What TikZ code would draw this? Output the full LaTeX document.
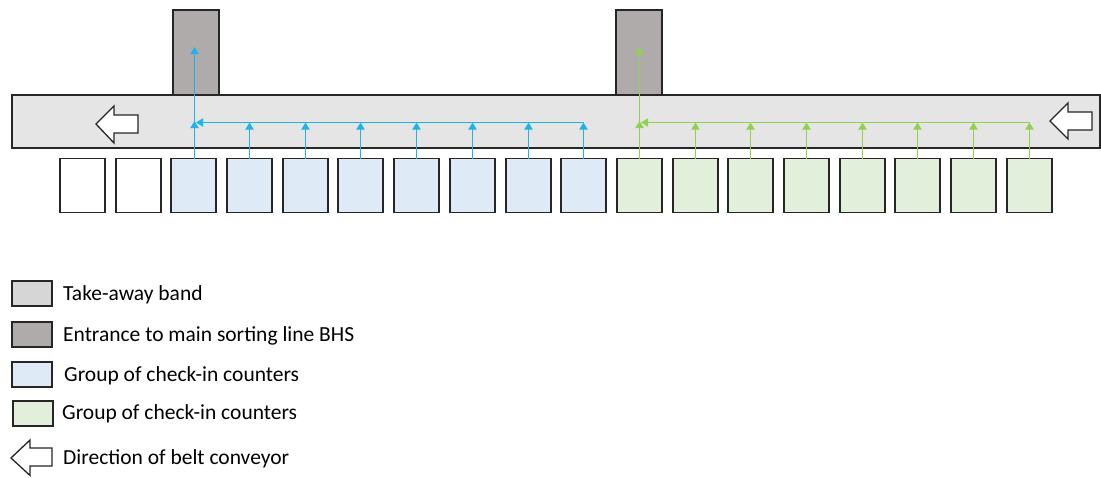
\documentclass[tikz,border=0pt]{standalone}
\usepackage{fontspec}
\setmainfont{Carlito}
\usetikzlibrary{arrows.meta}
\definecolor{bandfill}{RGB}{229,229,229}
\definecolor{legendband}{RGB}{214,214,214}
\definecolor{entfill}{RGB}{175,171,171}
\definecolor{bluefill}{RGB}{222,234,246}
\definecolor{greenfill}{RGB}{226,239,218}
\definecolor{blueline}{RGB}{32,178,235}
\definecolor{greenline}{RGB}{146,208,80}
\definecolor{edge}{RGB}{38,38,38}
\tikzset{
  box/.style={draw=edge, line width=1.3pt, inner sep=0pt, outer sep=0pt},
  counter/.style={box, minimum width=45pt, minimum height=54pt},
  entrance/.style={box, fill=entfill, minimum width=46pt, minimum height=85pt},
  legendbox/.style={box, minimum width=40pt, minimum height=25pt},
  flow/.style={line width=1.9pt, -{Triangle[width=8pt,length=7pt]}},
  blueflow/.style={flow, draw=blueline, fill=blueline},
  greenflow/.style={flow, draw=greenline, fill=greenline},
  dirarrow/.style={draw=edge, line width=1.3pt, fill=white, line join=miter},
  legendtext/.style={anchor=base west, inner sep=0pt, font=\fontsize{21.5}{25}\selectfont},
}
\begin{document}
\begin{tikzpicture}[x=1pt, y=-1pt]
\useasboundingbox (0,0) rectangle (1101,477);

% entrances to the main sorting line
\node[entrance] (e1) at (196,52.5) {};
\node[entrance] (e2) at (639,52.5) {};

% take-away band
\node[box, fill=bandfill, minimum width=1088pt, minimum height=53pt] (band) at (556,121.5) {};

% belt direction arrows
\draw[dirarrow] (96,124) -- (114,106) -- (114,115) -- (138,115) -- (138,133) -- (114,133) -- (114,143) -- cycle;
\draw[dirarrow] (1050,121) -- (1068,103) -- (1068,112) -- (1092,112) -- (1092,130) -- (1068,130) -- (1068,139) -- cycle;

% check-in counters
\foreach \i in {0,...,17}{
  \pgfmathsetmacro{\cx}{round(55.7*\i)+82.5}
  \ifnum\i<2
    \node[counter, fill=white] (c\i) at (\cx,185.5) {};
  \else\ifnum\i<10
    \node[counter, fill=bluefill] (c\i) at (\cx,185.5) {};
  \else
    \node[counter, fill=greenfill] (c\i) at (\cx,185.5) {};
  \fi\fi
}

% blue group collection
\coordinate (bj) at ([xshift=1pt]c2.north |- 0,122.5);
\coordinate (bt) at (bj |- 0,47);
\coordinate (br) at (c9.north |- 0,122.5);
\foreach \i in {3,...,9}{
  \draw[blueflow] (c\i.north) -- (c\i.north |- bj);
}
\draw[blueflow] (c2.north -| bj) -- ([yshift=1.5pt]bj);
\draw[blueflow] (br) -- ([xshift=1.5pt]bj);
\draw[blueflow] (bj) -- (bt);

% green group collection
\coordinate (gj) at (c10.north |- 0,122.5);
\coordinate (gt) at (c10.north |- 0,47);
\coordinate (gr) at (c17.north |- 0,122.5);
\foreach \i in {11,...,17}{
  \draw[greenflow] (c\i.north) -- (c\i.north |- gj);
}
\draw[greenflow] (c10.north) -- ([yshift=1.5pt]gj);
\draw[greenflow] (gr) -- ([xshift=1.5pt]gj);
\draw[greenflow] (gj) -- (gt);

% legend
\node[legendbox, fill=legendband] (l1) at (32,293.5) {};
\node[legendbox, fill=entfill] (l2) at (32,334.5) {};
\node[legendbox, fill=bluefill] (l3) at (32,374.5) {};
\node[legendbox, fill=greenfill] (l4) at (33,413.5) {};
\draw[dirarrow] (11,458) -- (30,440) -- (30,448) -- (52,448) -- (52,466) -- (30,466) -- (30,475.5) -- cycle;

\node[legendtext] (t1) at (63,300.5) {Take-away band};
\node[legendtext] (t2) at (63,341.5) {Entrance to main sorting line BHS};
\node[legendtext] (t3) at (64,381) {Group of check-in counters};
\node[legendtext] (t4) at (62,419) {Group of check-in counters};
\node[legendtext] (t5) at (63,464) {Direction of belt conveyor};
\end{tikzpicture}
\end{document}
